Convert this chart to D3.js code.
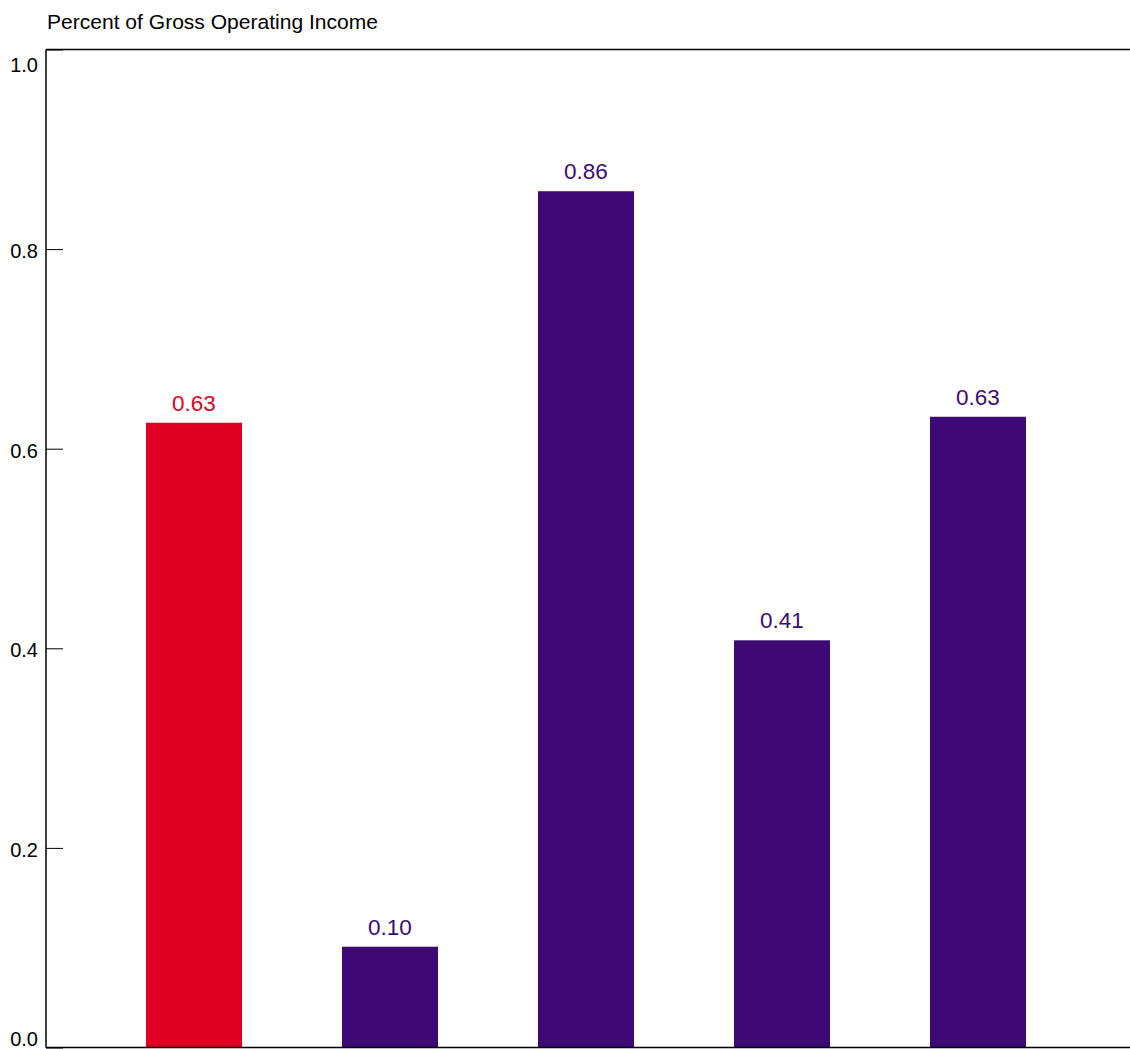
<!DOCTYPE html>
<html><head><meta charset="utf-8">
<script src="https://cdn.jsdelivr.net/npm/d3@7"></script>
<style>body{margin:0;background:#fff;} text{font-family:"Liberation Sans",Arial,sans-serif;}</style>
</head><body>
<svg id="c" width="1130" height="1049"></svg>
<script>
const categories = ["A","B","C","D","E"];
const values = [0.626, 0.101, 0.858, 0.408, 0.632];
const labels = ["0.63","0.10","0.86","0.41","0.63"];
const colors = ["#e00024","#3d0a75","#3d0a75","#3d0a75","#3d0a75"];
const yTicks = [0,0.2,0.4,0.6,0.8,1.0];
const title = "Percent of Gross Operating Income";

const svg = d3.select("#c");
const mLeft = 46, mTop = 49.5, mBottom = 1047.5, mRight = 1130;
const y = d3.scaleLinear().domain([0,1]).range([mBottom, mTop]);
const x = d3.scaleBand().domain(categories).range([96, 1076]).paddingInner(0.51).paddingOuter(0.255);

svg.append("text").attr("x",47).attr("y",29).attr("font-size",20.5).attr("fill","#000")
  .attr("textLength",331).attr("lengthAdjust","spacingAndGlyphs").text(title);

svg.selectAll("rect.bar").data(values).join("rect").attr("class","bar")
  .attr("x",(d,i)=>x(categories[i])).attr("width",x.bandwidth())
  .attr("y",d=>y(d)).attr("height",d=>mBottom-y(d)).attr("fill",(d,i)=>colors[i]);

svg.selectAll("text.val").data(values).join("text").attr("class","val")
  .attr("x",(d,i)=>x(categories[i])+x.bandwidth()/2).attr("y",d=>y(d)-12)
  .attr("text-anchor","middle").attr("font-size",22.5).attr("fill",(d,i)=>colors[i])
  .text((d,i)=>labels[i]);

const yAxis = d3.axisRight(y).tickValues(yTicks).tickSize(17).tickFormat("");
const g = svg.append("g").attr("transform",`translate(${mLeft},0)`).call(yAxis);
g.select(".domain").remove();
g.selectAll("line").attr("stroke","#000").attr("stroke-width",1);

svg.selectAll("text.yl").data(yTicks).join("text").attr("class","yl")
  .attr("x",38).attr("y",d=>Math.max(72, Math.min(1046, y(d)+9))).attr("text-anchor","end").attr("font-size",20).attr("fill","#000")
  .text(d=>d3.format(".1f")(d));

svg.append("line").attr("x1",mLeft).attr("x2",mLeft).attr("y1",mTop).attr("y2",mBottom).attr("stroke","#000").attr("stroke-width",1.5);
svg.append("line").attr("x1",mLeft).attr("x2",mRight).attr("y1",mTop).attr("y2",mTop).attr("stroke","#000").attr("stroke-width",1.5);
svg.append("line").attr("x1",mLeft).attr("x2",mRight).attr("y1",mBottom).attr("y2",mBottom).attr("stroke","#000").attr("stroke-width",1.5);
</script>
</body></html>
